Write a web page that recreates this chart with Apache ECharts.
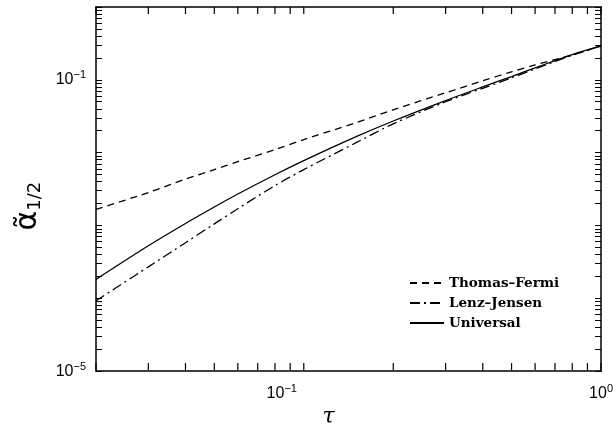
<!DOCTYPE html>
<html>
<head>
<meta charset="utf-8">
<script src="https://cdn.jsdelivr.net/npm/echarts@6/dist/echarts.min.js"></script>
<style>
  html, body { margin: 0; padding: 0; background: #fff; }
  #chart { width: 616px; height: 433px; }
</style>
</head>
<body>
<div id="chart"></div>
<script>
// reduced energy tau (x) and alpha_1/2 (y)
const tau = [0.02, 0.03, 0.04, 0.05, 0.06, 0.08, 0.1, 0.15, 0.2, 0.3, 0.4, 0.5, 0.6, 0.8, 1.0];
const thomasFermi = [0.00166, 0.00283, 0.00434, 0.00585, 0.00753, 0.0110, 0.0151, 0.0258, 0.0388, 0.0664, 0.0969, 0.129, 0.160, 0.220, 0.292];
const lenzJensen = [0.0000925, 0.000270, 0.000579, 0.00105, 0.00170, 0.00353, 0.00585, 0.0137, 0.0249, 0.050, 0.0765, 0.1065, 0.1415, 0.217, 0.292];
const universal = [0.000182, 0.000526, 0.001064, 0.00179, 0.00270, 0.00497, 0.00776, 0.01656, 0.0272, 0.0519, 0.080, 0.111, 0.146, 0.222, 0.292];

const seriesNames = ['Thomas–Fermi', 'Lenz–Jensen', 'Universal'];

const xRange = [0.02, 1];
const yRange = [1e-5, 1];
const xDecades = [0.01, 0.1, 1];
const yDecades = [1e-5, 1e-4, 1e-3, 1e-2, 1e-1, 1];
const xLabels = [0.1, 1];
const yLabels = [1e-5, 1e-1];
const mantissas = [1, 2, 3, 4, 5, 6, 7, 8, 9];

// decade ticks plus the 2..9 ticks between them, kept inside the axis range
function logTicks(range, decades) {
  const out = [];
  decades.forEach(d => mantissas.forEach(m => {
    const v = d * m;
    if (v > range[0] * 0.999 && v < range[1] * 1.001) out.push(v);
  }));
  return out;
}
const xTicks = logTicks(xRange, xDecades);
const yTicks = logTicks(yRange, yDecades);

const powerLabel = (v) => {
  const e = Math.round(Math.log10(v));
  return '{b|10}{s|' + (e < 0 ? '−' + (-e) : e) + '}';
};
// the tau = 10^-1 label sits a little left of its tick in the original
const xPowerLabel = (v) => powerLabel(v) + (v < 0.5 ? '{p|}' : '');
const labelRich = {
  b: { fontSize: 16, fontFamily: 'Liberation Sans', color: '#000', lineHeight: 20 },
  s: { fontSize: 11, fontFamily: 'Liberation Sans', color: '#000', verticalAlign: 'top', lineHeight: 12 },
  p: { width: 44 }
};
const frame = { show: true, lineStyle: { color: '#000', width: 1.5 } };

function makeAxis(kind, pos, labels) {
  const range = kind === 'x' ? xRange : yRange;
  return {
    type: 'log',
    logBase: 10,
    position: pos,
    min: range[0],
    max: range[1],
    axisLine: frame,
    axisTick: kind === 'y' ? {
      show: true, inside: true, length: 6,
      customValues: yTicks,
      lineStyle: { color: '#000', width: 1 }
    } : { show: false },
    axisLabel: labels ? {
      show: true, customValues: labels, margin: kind === 'x' ? 12 : 10,
      formatter: kind === 'x' ? xPowerLabel : powerLabel, rich: labelRich
    } : { show: false },
    splitLine: { show: false }
  };
}

const chart = echarts.init(document.getElementById('chart'), null, { renderer: 'canvas' });

const xAxes = [makeAxis('x', 'bottom', xLabels), makeAxis('x', 'top', null)];
xAxes[0].name = 'τ';
xAxes[0].nameLocation = 'middle';
xAxes[0].nameGap = 34;
xAxes[0].nameTextStyle = { fontSize: 22, fontFamily: 'DejaVu Serif', fontStyle: 'italic', color: '#000', padding: [0, 40, 0, 0] };

const yAxes = [makeAxis('y', 'left', yLabels), makeAxis('y', 'right', null)];
yAxes[0].name = '{a|α̃}{s|1/2}';
yAxes[0].nameLocation = 'middle';
yAxes[0].nameRotate = 90;
yAxes[0].nameGap = 30;
yAxes[0].nameTextStyle = {
  color: '#000',
  padding: [0, 34, 0, 0],
  rich: {
    a: { fontSize: 30, fontFamily: 'DejaVu Sans', color: '#000', lineHeight: 34 },
    s: { fontSize: 18, fontFamily: 'DejaVu Sans', color: '#000', verticalAlign: 'bottom', lineHeight: 21 }
  }
};

const lineOf = (name, values, type) => ({
  name: name,
  type: 'line',
  symbol: 'none',
  smooth: 0.3,
  data: tau.map((t, i) => [t, values[i]]),
  lineStyle: { color: '#000', width: 1.3, type: type },
  itemStyle: { color: '#000' }
});

// tau ticks on the bottom and top frame, x placed through the x scale
const tauTicks = {
  name: 'tauTicks',
  type: 'custom',
  silent: true,
  clip: false,
  z: 10,
  data: xTicks.map(v => [v, 0.01]),
  renderItem: (params, api) => {
    const cs = params.coordSys;
    const x = api.coord([api.value(0), 0.01])[0];
    const yb = cs.y + cs.height;
    const style = { stroke: '#000', lineWidth: 1.2 };
    return {
      type: 'group',
      children: [
        { type: 'line', shape: { x1: x, y1: yb - 1, x2: x, y2: yb - 8 }, style: style },
        { type: 'line', shape: { x1: x, y1: cs.y, x2: x, y2: cs.y + 7 }, style: style }
      ]
    };
  }
};

chart.setOption({
  animation: false,
  backgroundColor: '#fff',
  grid: { left: 96, right: 13, top: 7, bottom: 61, containLabel: false },
  legend: {
    orient: 'vertical',
    left: 404,
    top: 271,
    itemWidth: 34,
    itemHeight: 10,
    itemGap: 6,
    itemStyle: { opacity: 0 },
    textStyle: { fontFamily: 'DejaVu Serif', fontWeight: 'bold', fontSize: 13.5, color: '#000', lineHeight: 14 },
    data: seriesNames
  },
  xAxis: xAxes,
  yAxis: yAxes,
  series: [
    lineOf(seriesNames[0], thomasFermi, [7, 5]),
    lineOf(seriesNames[1], lenzJensen, [10, 4, 2, 4]),
    lineOf(seriesNames[2], universal, 'solid'),
    tauTicks
  ]
});
</script>
</body>
</html>
